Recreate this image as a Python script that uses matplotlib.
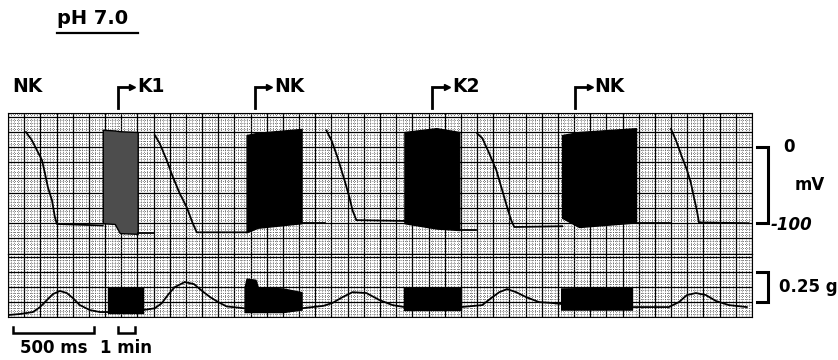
import numpy as np
import matplotlib.pyplot as plt
from matplotlib.transforms import blended_transform_factory

# chart paper position along x in ms (fast sweep), 100 ms per major division
# membrane potential of each fast sweep (mV), from peak to resting level
ap1_t = [111, 148, 179, 210, 228, 247, 272, 290, 302, 586]
ap1_v = [20, 9, -4, -17, -34, -53, -70, -92, -101, -103]
ap2_t = [907, 938, 981, 1019, 1062, 1105, 1142, 1167, 1475]
ap2_v = [16, 5, -17, -39, -61, -79, -100, -112, -112]
ap3_t = [1969, 2000, 2037, 2080, 2111, 2130, 2154, 2451]
ap3_v = [22, 9, -13, -43, -66, -83, -96, -97]
ap4_t = [2901, 2932, 2975, 3019, 3056, 3086, 3111, 3130, 3426]
ap4_v = [18, 12, -8, -30, -57, -79, -96, -105, -104]
ap5_t = [4099, 4130, 4167, 4198, 4222, 4241, 4259, 4272, 4580]
ap5_v = [24, 9, -13, -30, -47, -66, -83, -99, -100]

# resting level between a slow recording and the next sweep (mV)
rest_t0 = [802, 1815, 2790, 3883]
rest_t1 = [900, 1960, 2895, 4092]
rest_v = [-113, -100, -109, -100]

# compressed (slow) recordings: envelope of the potential (mV)
k1_t = [586, 660, 691, 802]
k1_top = [23, 22, 21, 20]
k1_bot = [-100, -101, -113, -114]
nk1_t = [1475, 1543, 1815]
nk1_top = [16, 19, 24]
nk1_bot = [-112, -106, -100]
k2_t = [2451, 2648, 2790]
k2_top = [20, 25, 20]
k2_bot = [-100, -107, -109]
nk2_t = [3426, 3531, 3883]
nk2_top = [16, 20, 25]
nk2_bot = [-93, -105, -99]

# contraction force (g)
tw1_t = [0, 74, 154, 198, 241, 278, 321, 364, 401, 444, 506, 568, 617]
tw1_g = [-0.024, -0.016, 0, 0.04, 0.097, 0.145, 0.17, 0.153, 0.113, 0.056, 0.016, 0, 0]
tw2_t = [833, 907, 950, 990, 1030, 1093, 1150, 1200, 1250, 1300, 1352, 1463]
tw2_g = [0.016, 0.03, 0.07, 0.14, 0.2, 0.242, 0.225, 0.17, 0.12, 0.08, 0.045, 0.03]
tw3_t = [1815, 1883, 1950, 2006, 2068, 2130, 2216, 2296, 2377, 2451]
tw3_g = [0.03, 0.04, 0.05, 0.073, 0.12, 0.16, 0.153, 0.097, 0.056, 0.04]
tw4_t = [2802, 2932, 2988, 3037, 3086, 3142, 3204, 3284, 3364, 3420]
tw4_g = [0.04, 0.056, 0.113, 0.16, 0.185, 0.16, 0.12, 0.08, 0.073, 0.065]
tw5_t = [3870, 4086, 4148, 4198, 4253, 4315, 4377, 4457, 4568]
tw5_g = [0.04, 0.04, 0.08, 0.137, 0.153, 0.137, 0.089, 0.056, 0.04]

fk1_t = [617, 833]
fk1_top = [0.19, 0.19]
fk1_bot = [-0.01, -0.01]
fnk1_t = [1463, 1475, 1530, 1545, 1700, 1815]
fnk1_top = [0.2, 0.27, 0.26, 0.2, 0.19, 0.16]
fnk1_bot = [0.0, 0.0, 0.0, 0.0, 0.0, 0.02]
fk2_t = [2451, 2802]
fk2_top = [0.19, 0.19]
fk2_bot = [0.02, 0.02]
fnk2_t = [3420, 3858]
fnk2_top = [0.19, 0.2]
fnk2_bot = [0.02, 0.02]

labels = ['NK', 'K1', 'NK', 'K2', 'NK']
label_t = [25, 679, 1525, 2623, 3506]
has_arrow = [False, True, True, True, True]

W, H = 838, 360
fig = plt.figure(figsize=(W / 100, H / 100), dpi=100)
ax1 = fig.add_axes([8 / W, 1 - 253.6 / H, 744 / W, 140.6 / H])
ax2 = fig.add_axes([8 / W, 1 - 317 / H, 744 / W, 63.4 / H])

ax1.set_ylim(-140, 45)
ax2.set_ylim(-0.04, 0.471)
for ax in (ax1, ax2):
    ax.set_xlim(0, 4600)
    ax.set_xticks(np.arange(0, 4601, 100))
    ax.set_xticks(np.arange(0, 4601, 20), minor=True)
ax1.set_yticks(np.arange(-140, 46, 20))
ax1.set_yticks(np.arange(-140, 46, 4), minor=True)
ax2.set_yticks(np.arange(-0.04, 0.48, 0.121))
ax2.set_yticks(np.arange(-0.04, 0.48, 0.0242), minor=True)

for ax in (ax1, ax2):
    ax.grid(which='major', color='black', lw=0.9)
    ax.grid(which='minor', color='0.3', lw=0.6, ls=(0, (1, 1.6)))
    ax.tick_params(which='both', length=0, labelbottom=False, labelleft=False)
    for s in ax.spines.values():
        s.set_linewidth(0.8)
    ax.set_axisbelow(True)

# potential
for t, v in [(ap1_t, ap1_v), (ap2_t, ap2_v), (ap3_t, ap3_v), (ap4_t, ap4_v), (ap5_t, ap5_v)]:
    ax1.plot(t, v, color='black', lw=1.3)
for t0, t1, v in zip(rest_t0, rest_t1, rest_v):
    ax1.plot([t0, t1], [v, v], color='black', lw=1.3)
ax1.fill_between(k1_t, k1_bot, k1_top, color='0.3', ec='black', lw=1)
for t, lo, hi in [(nk1_t, nk1_bot, nk1_top), (k2_t, k2_bot, k2_top), (nk2_t, nk2_bot, nk2_top)]:
    ax1.fill_between(t, lo, hi, color='black', lw=1)

# force
for t, g in [(tw1_t, tw1_g), (tw2_t, tw2_g), (tw3_t, tw3_g), (tw4_t, tw4_g), (tw5_t, tw5_g)]:
    ax2.plot(t, g, color='black', lw=1.3)
for t, lo, hi in [(fk1_t, fk1_bot, fk1_top), (fnk1_t, fnk1_bot, fnk1_top),
                  (fk2_t, fk2_bot, fk2_top), (fnk2_t, fnk2_bot, fnk2_top)]:
    ax2.fill_between(t, lo, hi, color='black', lw=1)

tf = fig.transFigure
bt = blended_transform_factory(ax1.transData, tf)
fy = lambda py: 1 - py / H
fx = lambda px: px / W

# condition labels with arrows
for name, t, arr in zip(labels, label_t, has_arrow):
    if arr:
        dt = 17 / 0.1617
        ax1.plot([t, t, t + dt * 0.8], [fy(108), fy(87), fy(87)], color='black', lw=2,
                 transform=bt, clip_on=False, solid_joinstyle='miter')
        ax1.plot([t + dt * 0.85], [fy(87)], marker='>', ms=5, color='black',
                 transform=bt, clip_on=False)
        ax1.text(t + dt * 1.15, fy(86), name, transform=bt, fontsize=13.5, fontweight='bold',
                 ha='left', va='center')
    else:
        ax1.text(t, fy(86), name, transform=bt, fontsize=13.5, fontweight='bold',
                 ha='left', va='center')

# title
fig.text(fx(57), fy(18), 'pH 7.0', fontsize=14, fontweight='bold', ha='left', va='center')
fig.add_artist(plt.Line2D([fx(57), fx(138)], [fy(33), fy(33)], color='black', lw=1.6))

# mV calibration bracket
bt1 = blended_transform_factory(tf, ax1.transData)
ax1.plot([fx(757), fx(768), fx(768), fx(757)], [0, 0, -100, -100], color='black', lw=2.2,
         transform=bt1, clip_on=False, solid_joinstyle='miter')
ax1.text(fx(783), 0, '0', transform=bt1, fontsize=12, fontweight='bold', ha='left', va='center')
ax1.text(fx(795), -50, 'mV', transform=bt1, fontsize=12, fontweight='bold', ha='left', va='center')
ax1.text(fx(771), -102, '-100', transform=bt1, fontsize=12, fontweight='bold', style='italic',
         ha='left', va='center')

# force calibration bracket
bt2 = blended_transform_factory(tf, ax2.transData)
ax2.plot([fx(757), fx(768), fx(768), fx(757)], [0.32, 0.32, 0.08, 0.08], color='black', lw=2.2,
         transform=bt2, clip_on=False, solid_joinstyle='miter')
ax2.text(fx(779), 0.2, '0.25 g', transform=bt2, fontsize=12, fontweight='bold', ha='left', va='center')

# time scale bars
for t0, t1, lab in [(31, 531, '500 ms'), (679, 784, '1 min')]:
    ax1.plot([t0, t0, t1, t1], [fy(327), fy(333), fy(333), fy(327)], color='black', lw=1.8,
             transform=bt, clip_on=False, solid_joinstyle='miter')
    ax1.text((t0 + t1) / 2, fy(348), lab, transform=bt, fontsize=12, fontweight='bold',
             ha='center', va='center')

fig.savefig('out.png', dpi=100)
